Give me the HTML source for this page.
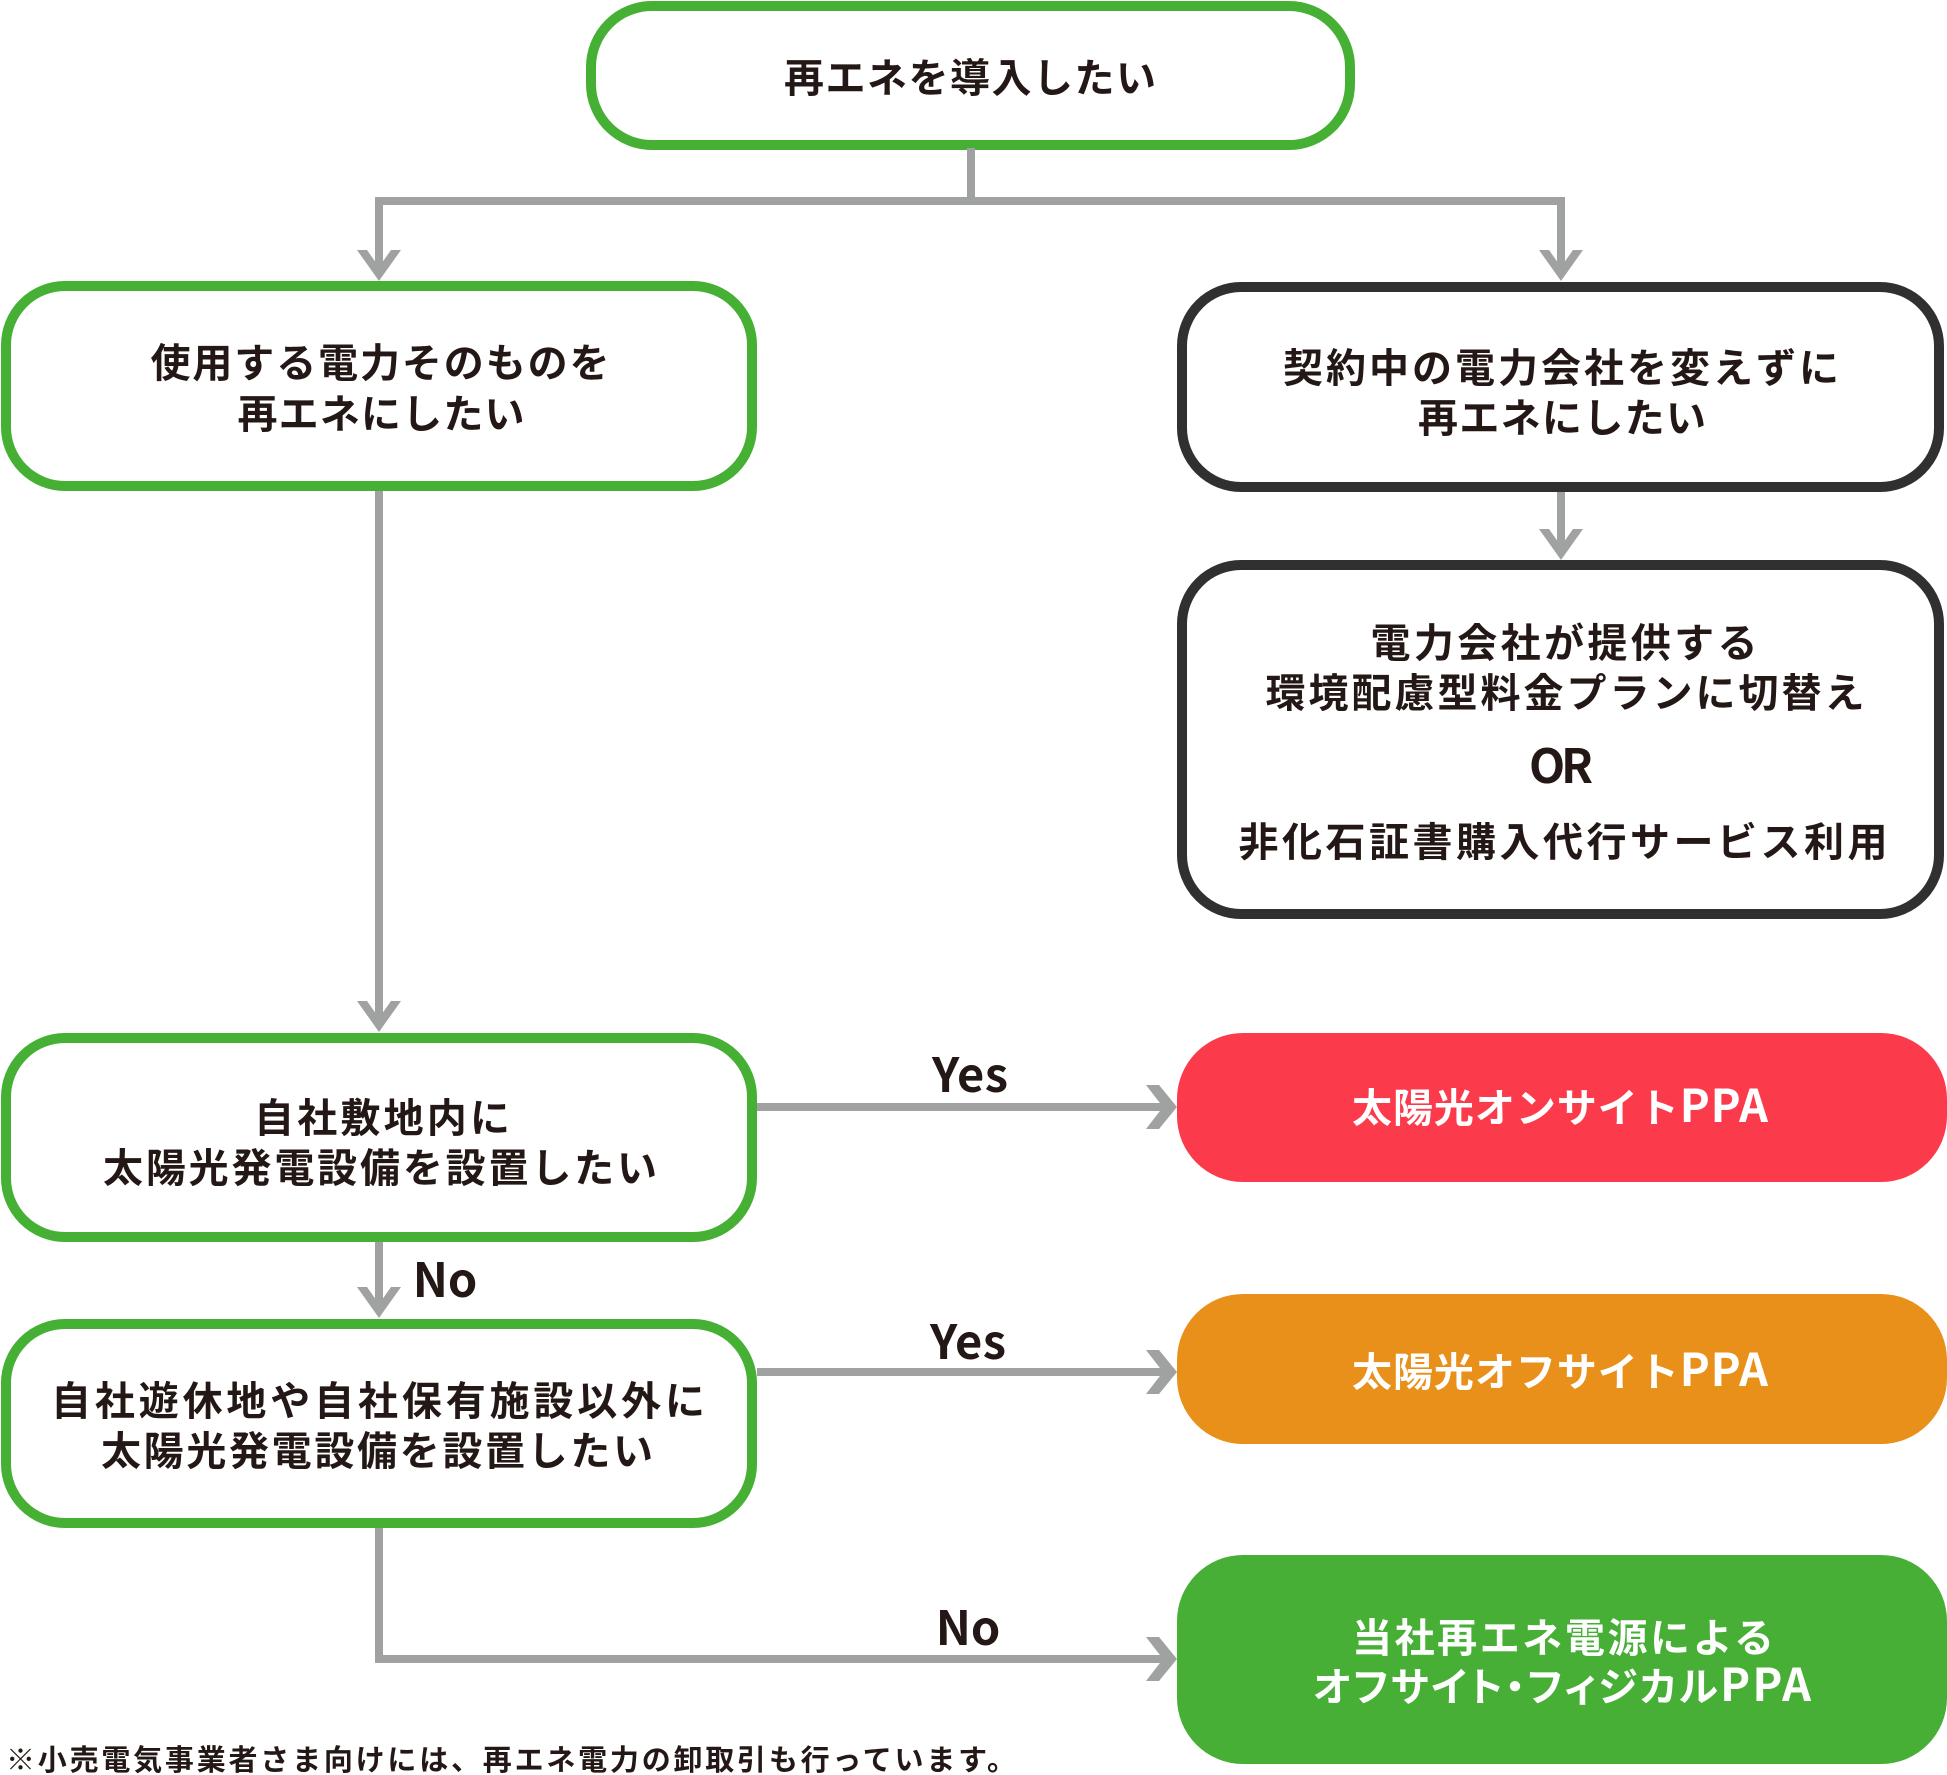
<!DOCTYPE html>
<html><head><meta charset="utf-8">
<style>
html,body{margin:0;padding:0;background:#fff;}
body{width:1947px;height:1775px;position:relative;overflow:hidden;}
.b{position:absolute;box-sizing:border-box;border-radius:64px;background:#fff;}
.g{border:10px solid #46b035;}
.d{border:10px solid #303030;}
svg{position:absolute;left:0;top:0;}
text{font-family:"Noto Sans CJK JP","Liberation Sans",sans-serif;font-weight:700;}
.t{font-size:40px;fill:#231815;}
.w{font-size:40px;fill:#fff;}
.l{font-size:47px;fill:#231815;}
</style></head>
<body>
<div class="b g" style="left:586px;top:1px;width:769px;height:149px;border-radius:66px;"></div>
<div class="b g" style="left:1px;top:281px;width:756px;height:210px;"></div>
<div class="b d" style="left:1177px;top:282px;width:767px;height:210px;"></div>
<div class="b d" style="left:1177px;top:560px;width:767px;height:359px;"></div>
<div class="b g" style="left:1px;top:1033px;width:756px;height:209px;"></div>
<div class="b g" style="left:1px;top:1319px;width:756px;height:209px;"></div>
<div class="b" style="left:1177px;top:1033px;width:770px;height:149px;background:#fb3b4b;border-radius:66px;"></div>
<div class="b" style="left:1177px;top:1294px;width:770px;height:150px;background:#e8901a;border-radius:66px;"></div>
<div class="b" style="left:1177px;top:1555px;width:770px;height:209px;background:#47af36;border-radius:66px;"></div>

<svg width="1947" height="1775" viewBox="0 0 1947 1775">
<g fill="#a0a1a1">
<rect x="967" y="148" width="8" height="57"/>
<rect x="375" y="197" width="1190" height="8"/>
<rect x="375" y="197" width="8" height="78"/>
<polygon points="357,250 367,250 379,267 391,250 401,250 379,281"/>
<rect x="1557" y="197" width="8" height="78"/>
<polygon points="1539,250 1549,250 1561,267 1573,250 1583,250 1561,281"/>
<rect x="375" y="491" width="8" height="535"/>
<polygon points="357,1001 367,1001 379,1018 391,1001 401,1001 379,1032"/>
<rect x="1557" y="492" width="8" height="62"/>
<polygon points="1539,529 1549,529 1561,546 1573,529 1583,529 1561,560"/>
<rect x="375" y="1242" width="8" height="70"/>
<polygon points="357,1287 367,1287 379,1304 391,1287 401,1287 379,1318"/>
<rect x="757" y="1103" width="414" height="8"/>
<polygon points="1146,1085 1159,1085 1177,1107 1159,1129 1146,1129 1163,1107"/>
<rect x="757" y="1368" width="414" height="8"/>
<polygon points="1146,1350 1159,1350 1177,1372 1159,1394 1146,1394 1163,1372"/>
<rect x="375" y="1528" width="8" height="135"/>
<rect x="375" y="1655" width="796" height="8"/>
<polygon points="1146,1637 1159,1637 1177,1659 1159,1681 1146,1681 1163,1659"/>
</g>

<text class="t" x="970" y="92" text-anchor="middle" textLength="372" lengthAdjust="spacing">再エネを導入したい</text>

<text class="t" x="380" y="377" text-anchor="middle" textLength="459" lengthAdjust="spacing">使用する電力そのものを</text>
<text class="t" x="381" y="428" text-anchor="middle" textLength="287" lengthAdjust="spacing">再エネにしたい</text>

<text class="t" x="1561" y="382" text-anchor="middle" textLength="556" lengthAdjust="spacing">契約中の電力会社を変えずに</text>
<text class="t" x="1562" y="432" text-anchor="middle" textLength="288" lengthAdjust="spacing">再エネにしたい</text>

<text class="t" x="1564" y="657" text-anchor="middle" textLength="387" lengthAdjust="spacing">電力会社が提供する</text>
<text class="t" x="1565" y="707" text-anchor="middle" textLength="599" lengthAdjust="spacing">環境配慮型料金プランに切替え</text>
<text class="l" x="1561" y="783" text-anchor="middle" font-size="46" textLength="64" lengthAdjust="spacing">OR</text>
<text class="t" x="1563" y="856" text-anchor="middle" textLength="649" lengthAdjust="spacing">非化石証書購入代行サービス利用</text>

<text class="t" x="382" y="1132" text-anchor="middle" textLength="256" lengthAdjust="spacing">自社敷地内に</text>
<text class="t" x="380" y="1182" text-anchor="middle" textLength="554" lengthAdjust="spacing">太陽光発電設備を設置したい</text>

<text class="t" x="378" y="1415" text-anchor="middle" textLength="654" lengthAdjust="spacing">自社遊休地や自社保有施設以外に</text>
<text class="t" x="377" y="1465" text-anchor="middle" textLength="552" lengthAdjust="spacing">太陽光発電設備を設置したい</text>

<text class="w" x="1560" y="1122" text-anchor="middle" textLength="416" lengthAdjust="spacing">太陽光オンサイト<tspan font-size="45">PPA</tspan></text>
<text class="w" x="1560" y="1386" text-anchor="middle" textLength="416" lengthAdjust="spacing">太陽光オフサイト<tspan font-size="45">PPA</tspan></text>
<text class="w" x="1563" y="1652" text-anchor="middle" textLength="422" lengthAdjust="spacing">当社再エネ電源による</text>
<text class="w" x="1562" y="1701" text-anchor="middle" textLength="498" lengthAdjust="spacing" style="font-feature-settings:'palt';">オフサイト・フィジカル<tspan font-size="45">PPA</tspan></text>

<text class="l" x="970" y="1092" text-anchor="middle" textLength="76" lengthAdjust="spacing">Yes</text>
<text class="l" x="445" y="1297" text-anchor="middle" font-size="42">No</text>
<text class="l" x="968" y="1359" text-anchor="middle" textLength="76" lengthAdjust="spacing">Yes</text>
<text class="l" x="968" y="1645" text-anchor="middle" font-size="42">No</text>

<text x="6" y="1770" font-size="29" fill="#231815" textLength="1010" lengthAdjust="spacing">※小売電気事業者さま向けには、再エネ電力の卸取引も行っています。</text>
</svg>
</body></html>
